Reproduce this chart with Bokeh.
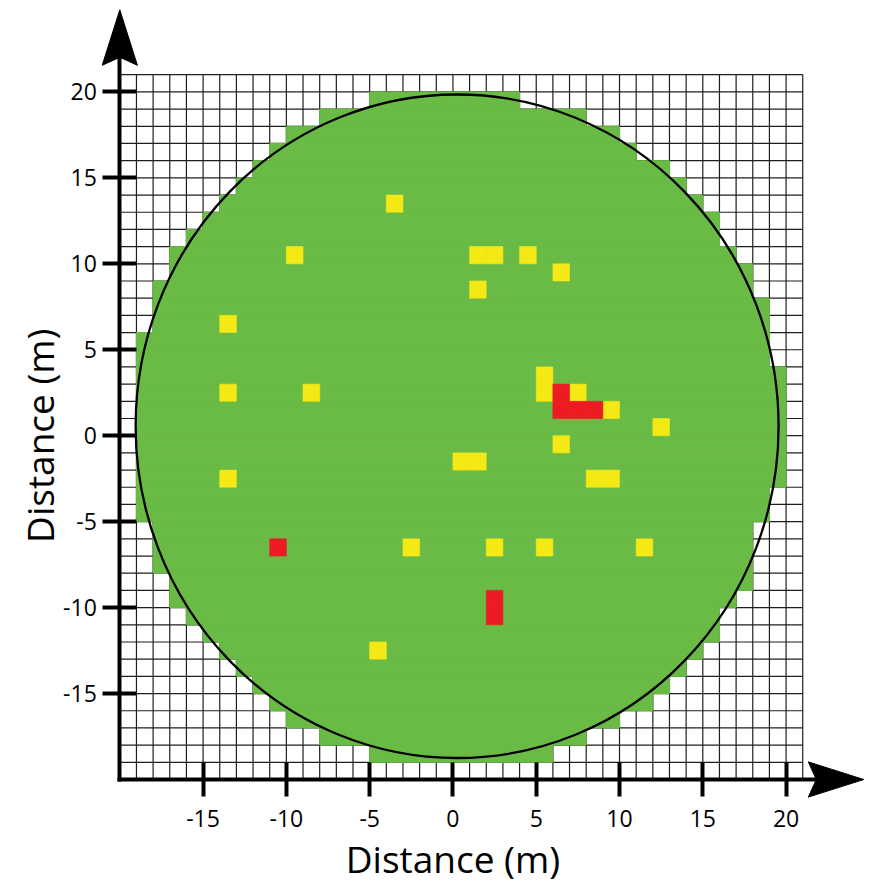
import math

from bokeh.embed import file_html
from bokeh.models import FixedTicker, Label, Range1d
from bokeh.plotting import figure
from bokeh.resources import INLINE

# ---- survey field (metres) ----
grid_min, grid_max = -20, 21
tick_values = [-15, -10, -5, 0, 5, 10, 15, 20]

# covered area, row by row: lower edge of each 1 m row and its x extent
row_y = list(range(19, -20, -1))
row_x_start = [-5, -8, -10, -11, -12, -13, -14, -15, -16, -17, -17, -18, -18, -18,
               -19, -19, -19, -19, -19, -19, -19, -19, -19, -19, -19,
               -18, -18, -18, -17, -17, -16, -15, -14, -13, -12, -11, -10, -8, -5]
row_x_end = [4, 8, 10, 11, 13, 14, 15, 16, 16, 17, 18, 18, 19, 19, 19, 19,
             20, 20, 20, 20, 20, 20, 20, 19, 19,
             18, 18, 18, 18, 17, 16, 16, 15, 14, 13, 12, 10, 8, 6]

# flagged cells, lower-left corner of each 1 m cell
yellow_x = [-4, -10, 1, 2, 4, 6, 1, -14, -14, -9, -14, 5, 5, 7, 9, 12, 6, 0, 1, 8, 9, -3, 2, 5, 11, -5]
yellow_y = [13, 10, 10, 10, 10, 9, 8, 6, 2, 2, -3, 3, 2, 2, 1, 0, -1, -2, -2, -3, -3, -7, -7, -7, -7, -13]
red_x = [6, 6, 7, 8, -11, 2, 2]
red_y = [2, 1, 1, 1, -7, -10, -11]

# reference circle
circle_x, circle_y, circle_r = 0.25, 0.55, 19.3

GREEN = "#6abb46"
YELLOW = "#f4e914"
RED = "#ed1c24"
FONT = "Open Sans"

# ---- canvas geometry ----
W, H = 874, 887
PX_X, PX_Y = 16.657, 17.19          # pixels per metre along x and y
ORIGIN_X, ORIGIN_Y = 119.3, 779.0    # canvas position of the (-20, -20) corner
x_lo = grid_min - ORIGIN_X / PX_X
x_hi = x_lo + W / PX_X
y_lo = grid_min - (H - ORIGIN_Y) / PX_Y
y_hi = y_lo + H / PX_Y

p = figure(width=W, height=H, x_range=Range1d(x_lo, x_hi), y_range=Range1d(y_lo, y_hi),
           toolbar_location=None, output_backend="svg", min_border=0)
p.outline_line_color = None
p.grid.visible = False
p.title.visible = False
p.background_fill_color = "white"
p.border_fill_color = "white"

# 1 m grid
vx = list(range(grid_min + 1, grid_max + 1))
p.segment(x0=vx, y0=[grid_min] * len(vx), x1=vx, y1=[grid_max] * len(vx),
          line_color="#1e1e1e", line_width=1.2)
hy = list(range(grid_min + 1, grid_max + 1))
p.segment(x0=[grid_min] * len(hy), y0=hy, x1=[grid_max] * len(hy), y1=hy,
          line_color="#1e1e1e", line_width=1.2)

# covered area
p.quad(left=row_x_start, right=row_x_end, bottom=row_y, top=[y + 1 for y in row_y],
       fill_color=GREEN, line_color=GREEN, line_width=1)

# flagged cells
p.quad(left=yellow_x, right=[x + 1 for x in yellow_x], bottom=yellow_y,
       top=[y + 1 for y in yellow_y], fill_color=YELLOW, line_color=YELLOW, line_width=0.6)
p.quad(left=red_x, right=[x + 1 for x in red_x], bottom=red_y,
       top=[y + 1 for y in red_y], fill_color=RED, line_color=RED, line_width=0.6)

# reference circle
p.ellipse(x=[circle_x], y=[circle_y], width=[2 * circle_r], height=[2 * circle_r],
          fill_color=None, line_color="black", line_width=2.3)

# axes crossing at the grid corner
axis_end = 22.3
for ax in (p.xaxis[0], p.yaxis[0]):
    ax.fixed_location = grid_min
    ax.bounds = (grid_min, axis_end)
    ax.ticker = FixedTicker(ticks=tick_values, minor_ticks=[])
    ax.major_label_overrides = {t: str(t) for t in tick_values}
    ax.axis_line_width = 4
    ax.axis_line_color = "black"
    ax.axis_line_cap = "square"
    ax.major_tick_in = 17
    ax.major_tick_out = 17
    ax.major_tick_line_width = 4
    ax.major_tick_line_color = "black"
    ax.minor_tick_line_color = None
    ax.major_label_text_font = FONT
    ax.major_label_text_font_size = "23px"
    ax.major_label_text_color = "black"
p.xaxis[0].major_label_standoff = 13
p.yaxis[0].major_label_standoff = 6

# arrow heads at the axis ends (sizes in pixels, converted to metres)
head_len, head_half, head_notch = 55.5, 17.6, 8.0
tip_x = grid_min + (863.3 - ORIGIN_X) / PX_X
tip_y = grid_min + (ORIGIN_Y - 9.3) / PX_Y
p.patch(x=[tip_x, tip_x - head_len / PX_X, tip_x - (head_len - head_notch) / PX_X, tip_x - head_len / PX_X],
        y=[grid_min, grid_min + head_half / PX_Y, grid_min, grid_min - head_half / PX_Y],
        fill_color="black", line_color="black", line_width=1)
p.patch(x=[grid_min, grid_min + head_half / PX_X, grid_min, grid_min - head_half / PX_X],
        y=[tip_y, tip_y - head_len / PX_Y, tip_y - (head_len - head_notch) / PX_Y, tip_y - head_len / PX_Y],
        fill_color="black", line_color="black", line_width=1)

# axis titles
p.add_layout(Label(x=0, y=grid_min - (858 - ORIGIN_Y) / PX_Y, text="Distance (m)",
                   text_align="center", text_baseline="middle",
                   text_font=FONT, text_font_size="37px", text_color="black"))
p.add_layout(Label(x=grid_min - (ORIGIN_X - 39) / PX_X, y=0, text="Distance (m)", angle=math.pi / 2,
                   text_align="center", text_baseline="middle",
                   text_font=FONT, text_font_size="37px", text_color="black"))

open("out.html", "w").write(file_html(p, INLINE))
